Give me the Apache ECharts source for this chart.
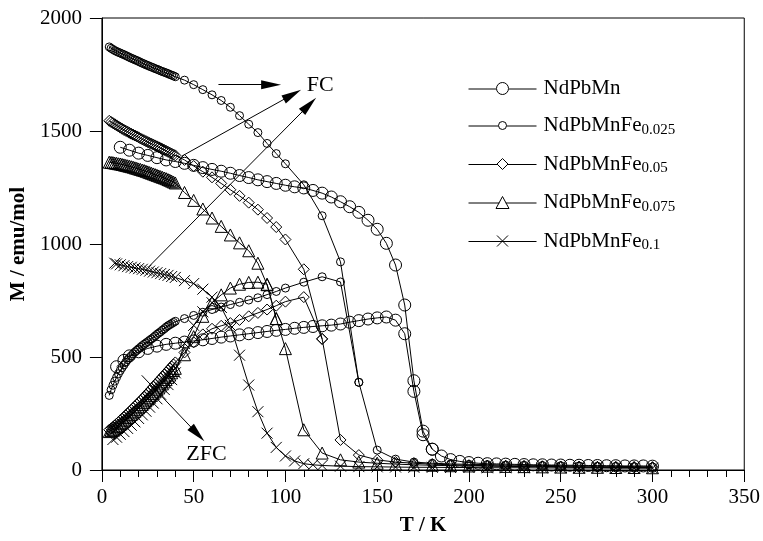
<!DOCTYPE html>
<html>
<head>
<meta charset="utf-8">
<script src="https://cdn.jsdelivr.net/npm/echarts@6/dist/echarts.min.js"></script>
<style>
  html, body { margin: 0; padding: 0; background: #fff; }
  #chart { width: 763px; height: 541px; }
</style>
</head>
<body>
<div id="chart"></div>
<script>
  // T in K, M in emu/mol
  var xTicks = [0, 50, 100, 150, 200, 250, 300, 350];
  var yTicks = [0, 500, 1000, 1500, 2000];

  var names = ['NdPbMn', 'NdPbMnFe0.025', 'NdPbMnFe0.05', 'NdPbMnFe0.075', 'NdPbMnFe0.1'];
  var legendText = ['NdPbMn', 'NdPbMnFe{s|0.025}', 'NdPbMnFe{s|0.05}', 'NdPbMnFe{s|0.075}', 'NdPbMnFe{s|0.1}'];

  // NdPbMn
  var T_Mn_FC = [10,15,20,25,30,35,40,45,50,55,60,65,70,75,80,85,90,95,100,105,110,115,120,125,130,135,140,145,150,155,160,165,170,175,180,185,190,195,200,205,210,215,220,225,230,235,240,245,250,255,260,265,270,275,280,285,290,295,300];
  var M_Mn_FC = [1428,1415,1402,1392,1382,1372,1365,1357,1348,1338,1330,1322,1313,1303,1294,1284,1276,1268,1260,1253,1248,1237,1225,1208,1187,1165,1140,1105,1065,1003,907,730,395,172,92,62,46,38,33,30,28,27,26,25,24,23,23,22,22,21,21,20,20,19,19,18,18,18,17];
  var T_Mn_ZFC = [8,12,15,20,25,30,35,40,45,50,55,60,65,70,75,80,85,90,95,100,105,110,115,120,125,130,135,140,145,150,155,160,165,170,175,180];
  var M_Mn_ZFC = [457,485,505,523,538,548,556,561,566,571,576,582,588,593,598,603,608,613,618,622,627,631,635,638,641,646,654,661,668,673,677,663,603,348,156,92];

  // NdPbMnFe0.025
  var T_Fe025_FC = [4,5,6,7,8,9,10,11,12,13,14,15,16,17,18,19,20,21,22,23,24,25,26,27,28,29,30,31,32,33,34,35,36,37,38,39,40,45,50,55,60,65,70,75,80,85,90,95,100,110,120,130,140,150,160,170,180,190,200,210,220,230,240,250,260,270,280,290,300];
  var M_Fe025_FC = [1872,1866,1861,1856,1852,1848,1845,1841,1838,1834,1830,1826,1822,1819,1815,1812,1808,1804,1800,1797,1793,1790,1786,1783,1780,1776,1773,1770,1766,1763,1760,1757,1754,1750,1747,1744,1740,1725,1705,1683,1660,1635,1605,1568,1530,1493,1445,1400,1355,1262,1125,921,388,88,48,35,30,27,25,24,22,21,20,19,18,17,16,15,14];
  var T_Fe025_ZFC = [4,5,6,7,8,9,10,11,12,13,14,15,16,17,18,19,20,21,22,23,24,25,26,27,28,29,30,31,32,33,34,35,36,37,38,39,40,45,50,55,60,65,70,75,80,85,90,95,100,110,120,130,140];
  var M_Fe025_ZFC = [330,355,375,393,410,426,440,453,465,477,488,497,505,514,522,529,536,543,550,556,562,568,574,580,586,593,600,606,612,619,625,632,638,643,648,653,658,670,684,698,710,721,732,742,752,762,776,790,805,831,855,832,388];

  // NdPbMnFe0.05
  var T_Fe05_FC = [4,5,6,7,8,9,10,11,12,13,14,15,16,17,18,19,20,21,22,23,24,25,26,27,28,29,30,31,32,33,34,35,36,37,38,39,40,45,50,55,60,65,70,75,80,85,90,95,100,110,120,130,140,150,160,170,180,190,200,210,220,230,240,250,260,270,280,290,300];
  var M_Fe05_FC = [1545,1540,1535,1530,1525,1520,1515,1510,1505,1501,1497,1492,1488,1484,1480,1476,1472,1467,1463,1459,1455,1451,1447,1444,1440,1436,1432,1428,1424,1420,1416,1412,1408,1404,1400,1396,1392,1372,1345,1320,1295,1268,1240,1213,1183,1152,1115,1075,1020,888,580,133,66,45,35,30,26,23,21,19,18,17,16,15,14,13,13,12,12];
  var T_Fe05_ZFC = [4,5,6,7,8,9,10,11,12,13,14,15,16,17,18,19,20,21,22,23,24,25,26,27,28,29,30,31,32,33,34,35,36,37,38,39,40,45,50,55,60,65,70,75,80,85,90,95,100,110,120];
  var M_Fe05_ZFC = [178,184,190,197,205,212,220,227,235,242,250,258,266,274,282,290,298,306,315,323,332,341,350,359,368,377,386,395,404,413,422,431,440,449,458,467,476,520,565,600,625,638,650,664,680,695,710,727,745,765,580];

  // NdPbMnFe0.075
  var T_Fe075_FC = [4,5,6,7,8,9,10,11,12,13,14,15,16,17,18,19,20,21,22,23,24,25,26,27,28,29,30,31,32,33,34,35,36,37,38,39,40,45,50,55,60,65,70,75,80,85,90,95,100,110,120,130,140,150,160,170,180,190,200,210,220,230,240,250,260,270,280,290,300];
  var M_Fe075_FC = [1362,1361,1360,1358,1357,1355,1354,1352,1350,1348,1346,1344,1342,1340,1337,1335,1332,1330,1327,1325,1322,1319,1316,1313,1310,1307,1304,1301,1298,1295,1292,1289,1285,1282,1278,1274,1270,1228,1193,1155,1115,1078,1040,1005,970,915,820,670,537,178,75,45,35,30,26,23,21,19,18,17,16,15,14,13,12,12,11,11,10];
  var T_Fe075_ZFC = [4,5,6,7,8,9,10,11,12,13,14,15,16,17,18,19,20,21,22,23,24,25,26,27,28,29,30,31,32,33,34,35,36,37,38,39,40,45,50,55,60,65,70,75,80,85,90,95];
  var M_Fe075_ZFC = [170,175,180,186,192,198,205,211,218,225,232,239,246,253,260,267,275,282,290,298,306,314,322,330,338,346,355,363,372,381,390,400,410,420,430,440,450,510,590,680,740,775,805,822,830,831,822,670];

  // NdPbMnFe0.1
  var T_Fe1_FC = [7,8,10,12,14,16,18,20,22,24,26,28,30,32,34,36,38,40,45,50,55,60,65,70,75,80,85,90,95,100,105,110,115,120,130,140,150,160,170,180,190,200,210,220,230,240,250,260,270,280,290,300];
  var M_Fe1_FC = [915,912,908,904,900,897,894,891,888,884,880,876,873,869,865,861,856,852,838,825,800,765,720,640,508,376,258,163,100,62,40,28,23,20,17,15,14,13,12,12,11,11,10,10,10,9,9,9,9,8,8,8];
  var T_Fe1_ZFC = [6,8,10,12,14,16,18,20,22,24,26,28,30,32,34,36,38,40,45,50,55,60,65];
  var M_Fe1_ZFC = [135,145,158,170,184,198,213,228,244,260,278,296,315,335,356,378,400,430,560,640,700,740,720];

  // annotation arrows [T0, M0, T1, M1] (end = centre of the arrow head) and labels
  var fcArrows = [[63.5, 1705, 92.2, 1705], [43.4, 1388, 103.8, 1661], [25.5, 899, 112.9, 1616]];
  var zfcArrow = [21.7, 419, 52.1, 159];
  var noteLabels = [['FC', 119, 1702], ['ZFC', 57, 70]];

  var font = 'Liberation Serif';

  function zip(t, m) {
    return t.map(function (v, i) { return [v, m[i]]; });
  }

  var cross = 'path://M0 0L10 10M10 0L0 10';
  var styles = [
    { symbol: 'circle', size: 12 },
    { symbol: 'circle', size: 8 },
    { symbol: 'diamond', size: 11 },
    { symbol: 'triangle', size: 12 },
    { symbol: cross, size: 11 }
  ];
  // legend icons: line + marker in a 68 x 13 box
  var legendIcons = [
    'path://M34 0M34 13M0 7H27.5M40.5 7H68M34 0.5A6 6 0 1 1 34 12.5A6 6 0 1 1 34 0.5Z',
    'path://M34 0M34 13M0 7H30M38 7H68M34 2.5A4 4 0 1 1 34 10.5A4 4 0 1 1 34 2.5Z',
    'path://M34 0M34 13M0 7H28.5M39.5 7H68M34 1L39.5 6.5L34 12L28.5 6.5Z',
    'path://M34 0M34 13M0 7H30.75M37.25 7H68M34 0.5L40.5 12.5L27.5 12.5Z',
    'path://M34 0M34 13M0 7H68M28.5 1L39.5 12M39.5 1L28.5 12'
  ];
  var sets = [
    [T_Mn_FC, M_Mn_FC, T_Mn_ZFC, M_Mn_ZFC],
    [T_Fe025_FC, M_Fe025_FC, T_Fe025_ZFC, M_Fe025_ZFC],
    [T_Fe05_FC, M_Fe05_FC, T_Fe05_ZFC, M_Fe05_ZFC],
    [T_Fe075_FC, M_Fe075_FC, T_Fe075_ZFC, M_Fe075_ZFC],
    [T_Fe1_FC, M_Fe1_FC, T_Fe1_ZFC, M_Fe1_ZFC]
  ];

  function lineSeries(name, st, data) {
    return {
      name: name,
      type: 'line',
      data: data,
      symbol: st.symbol,
      symbolSize: st.size,
      showAllSymbol: true,
      lineStyle: { color: '#000', width: 1 },
      itemStyle: { color: 'rgba(255,255,255,0)', borderColor: '#000', borderWidth: 1 },
      emphasis: { disabled: true },
      silent: true
    };
  }

  var series = [];
  sets.forEach(function (s, i) {
    series.push(lineSeries(names[i], styles[i], zip(s[0], s[1])));
    series.push(lineSeries(names[i], styles[i], zip(s[2], s[3])));
  });

  function arrowItem(a) {
    return [
      { coord: [a[0], a[1]], symbol: 'none' },
      { coord: [a[2], a[3]], symbol: 'triangle', symbolSize: [9, 20] }
    ];
  }

  series.push({
    type: 'line',
    data: [],
    silent: true,
    markLine: {
      silent: true,
      animation: false,
      label: { show: false },
      lineStyle: { color: '#000', width: 1, type: 'solid' },
      itemStyle: { color: '#000' },
      emphasis: { disabled: true },
      data: fcArrows.map(arrowItem).concat([arrowItem(zfcArrow)])
    },
    markPoint: {
      silent: true,
      animation: false,
      symbol: 'circle',
      symbolSize: 0,
      label: { show: true, position: 'inside', formatter: '{b}', color: '#000', fontFamily: font, fontSize: 22 },
      data: noteLabels.map(function (n) { return { name: n[0], coord: [n[1], n[2]] }; })
    }
  });

  var chart = echarts.init(document.getElementById('chart'));
  chart.setOption({
    animation: false,
    backgroundColor: '#fff',
    grid: { left: 100, right: 18, top: 18, bottom: 69, show: true, borderColor: '#000', borderWidth: 1 },
    legend: {
      data: names.map(function (n, i) {
        return { name: n, icon: legendIcons[i], itemStyle: { color: '#fff', borderColor: '#000', borderWidth: 1 } };
      }),
      orient: 'vertical',
      left: 463,
      top: 73,
      itemWidth: 68,
      itemHeight: 13,
      itemGap: 16,
      selectedMode: false,
      formatter: function (name) { return legendText[names.indexOf(name)]; },
      textStyle: {
        fontFamily: font, fontSize: 21, color: '#000', padding: [0, 0, 0, 2],
        rich: { s: { fontFamily: font, fontSize: 15, color: '#000', padding: [9, 0, 0, 0] } }
      }
    },
    xAxis: {
      type: 'value',
      min: xTicks[0],
      max: xTicks[xTicks.length - 1],
      interval: 50,
      name: 'T / K',
      nameLocation: 'middle',
      nameGap: 45,
      nameTextStyle: { fontFamily: font, fontSize: 21, fontWeight: 'bold', color: '#000' },
      axisLine: { onZero: false, lineStyle: { color: '#000', width: 1 } },
      axisTick: { inside: false, length: 12, lineStyle: { color: '#000' } },
      minorTick: { show: true, splitNumber: 5, length: 7, lineStyle: { color: '#000' } },
      axisLabel: { fontFamily: font, fontSize: 21, color: '#000', margin: 17, formatter: function (v) { return String(v); } },
      splitLine: { show: false }
    },
    yAxis: {
      type: 'value',
      min: yTicks[0],
      max: yTicks[yTicks.length - 1],
      interval: 500,
      name: 'M / emu/mol',
      nameLocation: 'middle',
      nameGap: 67,
      nameTextStyle: { fontFamily: font, fontSize: 21, fontWeight: 'bold', color: '#000' },
      axisLine: { onZero: false, lineStyle: { color: '#000', width: 1 } },
      axisTick: { inside: false, length: 12, lineStyle: { color: '#000' } },
      axisLabel: { fontFamily: font, fontSize: 21, color: '#000', margin: 20, formatter: function (v) { return String(v); } },
      splitLine: { show: false }
    },
    series: series
  });
</script>
</body>
</html>
